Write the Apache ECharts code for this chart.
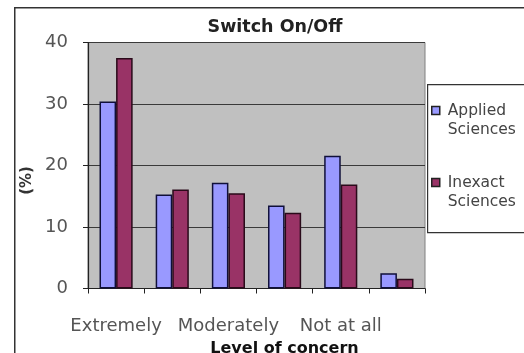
<!DOCTYPE html>
<html>
<head>
<meta charset="utf-8">
<title>Switch On/Off</title>
<script src="https://cdn.jsdelivr.net/npm/echarts@6/dist/echarts.min.js"></script>
<style>
    html, body { margin: 0; padding: 0; background: #fff; }
    #chart { width: 524px; height: 353px; }
</style>
</head>
<body>
<div id="chart"></div>
<script>
// 数据
var categories = ['Extremely', 'Very', 'Moderately', 'Slightly', 'Not at all', 'No answer'];
var appliedValues = [30.4, 15.3, 17.2, 13.5, 21.6, 2.5];
var inexactValues = [37.5, 16.1, 15.5, 12.3, 16.9, 1.6];
var seriesNames = ['Applied Sciences', 'Inexact Sciences'];
var yTicks = [0, 10, 20, 30, 40];

var font = 'DejaVu Sans';

var chart = echarts.init(document.getElementById('chart'));

var option = {
    animation: false,
    backgroundColor: '#fff',
    title: {
        text: 'Switch On/Off',
        left: 270,
        top: 13,
        textAlign: 'center',
        textStyle: { fontFamily: font, fontSize: 17.5, fontWeight: 'bold', color: '#222' }
    },
    // 外框和图例框
    graphic: [
        {
            type: 'rect', left: 14, top: 7, z: -1,
            shape: { width: 600, height: 400 },
            style: { fill: '#fff', stroke: '#333', lineWidth: 1.5 }
        },
        {
            type: 'rect', left: 427, top: 84, z: 1,
            shape: { width: 120, height: 148 },
            style: { fill: '#fff', stroke: '#333', lineWidth: 1.2 }
        }
    ],
    legend: {
        orient: 'vertical',
        left: 431,
        top: 82,
        z: 5,
        padding: 0,
        itemWidth: 8,
        itemHeight: 8,
        itemGap: 15,
        icon: 'rect',
        // 空行让标记对齐第一行文字
        formatter: function (name) {
            return ' \n' + name.replace(' ', '\n');
        },
        textStyle: {
            fontFamily: font, fontSize: 15.5, color: '#444',
            lineHeight: 19, padding: [0, 0, 0, 3]
        },
        itemStyle: { borderColor: '#222', borderWidth: 1.5 },
        data: seriesNames
    },
    grid: {
        left: 88, right: 99, top: 42.5, bottom: 64.5,
        outerBoundsMode: 'none',
        containLabel: false,
        show: true,
        backgroundColor: '#c0c0c0',
        borderColor: '#808080',
        borderWidth: 1
    },
    xAxis: {
        type: 'category',
        data: categories,
        name: 'Level of concern',
        nameLocation: 'middle',
        nameGap: 44,
        nameTextStyle: { fontFamily: font, fontSize: 16, fontWeight: 'bold', color: '#111', padding: [0, 0, 0, 56] },
        axisLine: { lineStyle: { color: '#222', width: 1.2 } },
        axisTick: { show: true, interval: 0, length: 5, lineStyle: { color: '#222' } },
        axisLabel: { interval: 1, margin: 29, fontFamily: font, fontSize: 18, color: '#555' }
    },
    yAxis: {
        type: 'value',
        min: yTicks[0],
        max: yTicks[yTicks.length - 1],
        interval: 10,
        name: '(%)',
        nameLocation: 'middle',
        nameRotate: 90,
        nameGap: 51,
        nameTextStyle: { fontFamily: font, fontSize: 15, fontWeight: 'bold', color: '#333', padding: [0, 30, 0, 0] },
        axisLine: { show: true, lineStyle: { color: '#222', width: 1.2 } },
        axisTick: { show: true, length: 5, lineStyle: { color: '#222' } },
        axisLabel: { margin: 20, fontFamily: font, fontSize: 18, color: '#555' },
        splitLine: { show: true, lineStyle: { color: '#3a3a3a', width: 1 } }
    },
    series: [
        {
            name: seriesNames[0],
            type: 'bar',
            data: appliedValues,
            barGap: '0%',
            barCategoryGap: '41%',
            itemStyle: { color: '#9999ff', borderColor: '#10103a', borderWidth: 1.5 }
        },
        {
            name: seriesNames[1],
            type: 'bar',
            data: inexactValues,
            itemStyle: { color: '#993366', borderColor: '#2a0a1a', borderWidth: 1.5 }
        }
    ]
};

chart.setOption(option);
</script>
</body>
</html>
